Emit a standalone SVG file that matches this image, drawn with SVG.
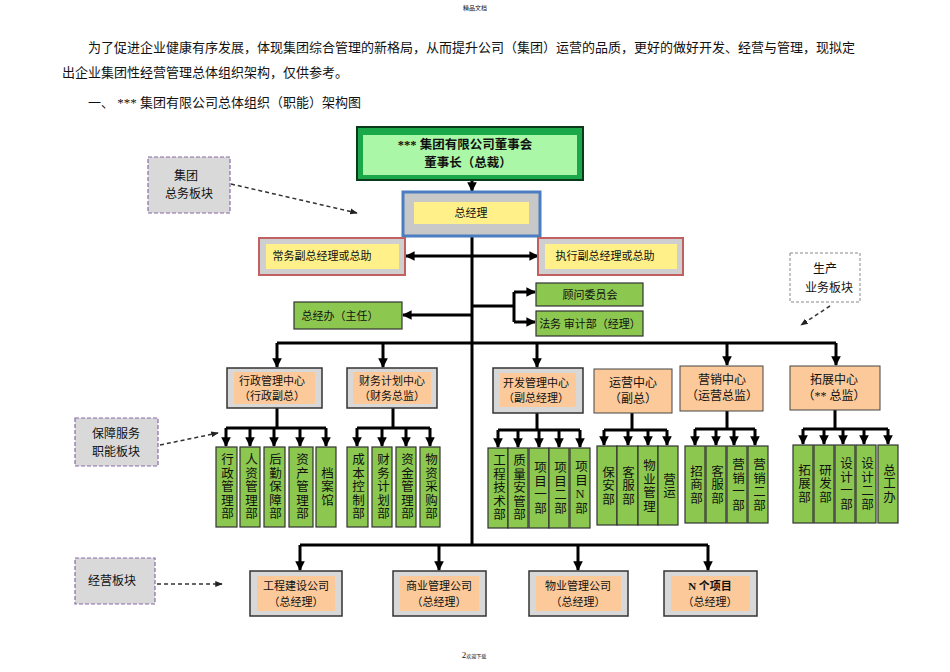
<svg xmlns="http://www.w3.org/2000/svg" width="950" height="672" viewBox="0 0 950 672">
<defs>
<marker id="ah" viewBox="0 0 10 10" refX="9" refY="5" markerWidth="3.2" markerHeight="3.2" orient="auto"><path d="M0,0L10,5L0,10z" fill="#000"/></marker>
<marker id="dh" viewBox="0 0 10 10" refX="9" refY="5" markerWidth="5" markerHeight="5" orient="auto"><path d="M0,1L10,5L0,9z" fill="#222"/></marker>
<style>
text{font-family:"Liberation Serif","Noto Sans CJK SC",serif;fill:#111}
.p{font-size:13px}
.t{font-size:11px;text-anchor:middle}
.v{font-size:12.5px;text-anchor:middle;writing-mode:vertical-rl;text-orientation:upright;letter-spacing:1px}
.ln{stroke:#000;stroke-width:3;fill:none}
.la{stroke:#000;stroke-width:3;fill:none;marker-end:url(#ah)}
.dl{stroke:#333;stroke-width:1.5;stroke-dasharray:4,3;fill:none;marker-end:url(#dh)}
.g{fill:#8cc850;stroke:#333;stroke-width:1.2}
.og{fill:#d8d8d8;stroke:#333;stroke-width:1.5}
.oi{fill:#fbc99a}
.o{fill:#fbc99a;stroke:#444;stroke-width:1}
.lab{fill:#d9d9d9;stroke:#8a6aa8;stroke-width:1.2;stroke-dasharray:4,2}
</style>
</defs>
<text x="475" y="10" style="font-size:6px;text-anchor:middle">精品文档</text>
<text class="p" x="88" y="52">为了促进企业健康有序发展，体现集团综合管理的新格局，从而提升公司（集团）运营的品质，更好的做好开发、经营与管理，现拟定</text>
<text class="p" x="62" y="77">出企业集团性经营管理总体组织架构，仅供参考。</text>
<text class="p" x="88" y="107">一、 *** 集团有限公司总体组织（职能）架构图</text>

<g id="connectors">
<path class="la" d="M472,180V191"/>
<path class="ln" d="M472,236V545"/>
<path class="la" d="M472,256H538"/><path class="la" d="M472,256H406"/>
<path class="la" d="M472,315H403"/>
<path class="ln" d="M472,306H514"/>
<path class="ln" d="M514,292V322"/><path class="la" d="M514,292H535"/><path class="la" d="M514,322H535"/>
<path class="ln" d="M277,343H836"/>
<path class="la" d="M277,343V367"/><path class="la" d="M383,343V367"/><path class="la" d="M537,343V367"/><path class="la" d="M727,343V365"/><path class="la" d="M836,343V365"/>
<path class="ln" d="M277,408V428M226,428H326"/>
<path class="la" d="M226,428V446"/><path class="la" d="M250,428V446"/><path class="la" d="M274,428V446"/><path class="la" d="M300,428V446"/><path class="la" d="M326,428V446"/>
<path class="ln" d="M393,408V428M357,428H430"/>
<path class="la" d="M357,428V446"/><path class="la" d="M382,428V446"/><path class="la" d="M406,428V446"/><path class="la" d="M430,428V446"/>
<path class="ln" d="M537,413V430M498,430H580"/>
<path class="la" d="M498,430V447"/><path class="la" d="M518,430V447"/><path class="la" d="M539,430V447"/><path class="la" d="M559,430V447"/><path class="la" d="M580,430V447"/>
<path class="ln" d="M632,413V430M604,430H667"/>
<path class="la" d="M604,430V445"/><path class="la" d="M628,430V445"/><path class="la" d="M648,430V445"/><path class="la" d="M667,430V445"/>
<path class="ln" d="M727,411V429M695,429H755"/>
<path class="la" d="M695,429V445"/><path class="la" d="M716,429V445"/><path class="la" d="M734,429V445"/><path class="la" d="M755,429V445"/>
<path class="ln" d="M835,410V429M803,429H888"/>
<path class="la" d="M803,429V444"/><path class="la" d="M824,429V444"/><path class="la" d="M843,429V444"/><path class="la" d="M864,429V444"/><path class="la" d="M888,429V444"/>
<path class="ln" d="M300,545H708"/>
<path class="la" d="M300,545V570"/><path class="la" d="M439,545V570"/><path class="la" d="M578,545V570"/><path class="la" d="M708,545V570"/>
<path class="dl" d="M231,184L357,213"/>
<path class="dl" d="M160,445L218,433"/>
<path class="dl" d="M157,584L222,584"/>
<path class="dl" d="M830,306L801,325"/>
</g>

<g id="board"><rect x="357" y="127" width="226" height="53" fill="#1aa84a" stroke="#0a3a1a" stroke-width="2"/><rect x="363" y="135" width="214" height="40" fill="#aaf7a8"/>
<text class="t" x="465" y="149" style="font-size:12.5px;font-weight:bold">*** 集团有限公司董事会</text><text class="t" x="468" y="167" style="font-size:12.5px;font-weight:bold">董事长（总裁）</text></g>
<g id="gm"><rect x="403" y="192" width="137" height="44" fill="#c8c8c8" stroke="#4a7ec0" stroke-width="3"/><rect x="414" y="202" width="115" height="22" fill="#fff08a"/><text class="t" x="471" y="217">总经理</text></g>
<g id="vp1"><rect x="259" y="238" width="146" height="37" fill="#cfcfcf" stroke="#c06060" stroke-width="2"/><rect x="266" y="244" width="133" height="25" fill="#fff08a"/><text class="t" x="322" y="260">常务副总经理或总助</text></g>
<g id="vp2"><rect x="538" y="238" width="145" height="37" fill="#cfcfcf" stroke="#c06060" stroke-width="2"/><rect x="545" y="244" width="132" height="25" fill="#fff08a"/><text class="t" x="605" y="260">执行副总经理或总助</text></g>
<g id="gw"><rect x="536" y="283" width="107" height="23" class="g"/><text class="t" x="590" y="299">顾问委员会</text></g>
<g id="fw"><rect x="536" y="311" width="107" height="25" class="g"/><text class="t" x="590" y="328">法务 审计部（经理）</text></g>
<g id="zjb"><rect x="294" y="302" width="108" height="27" class="g"/><text class="t" x="340" y="320">总经办（主任）</text></g>

<g id="xz"><rect x="227" y="368" width="95" height="40" class="og"/><rect x="234" y="372" width="81" height="32" class="oi"/><text class="t" x="272" y="385">行政管理中心</text><text class="t" x="272" y="400">（行政副总）</text></g>
<g id="cw"><rect x="347" y="368" width="90" height="40" class="og"/><rect x="353" y="372" width="78" height="32" class="oi"/><text class="t" x="392" y="385">财务计划中心</text><text class="t" x="392" y="400">（财务总监）</text></g>
<g id="kf"><rect x="493" y="368" width="90" height="45" class="og"/><rect x="500" y="373" width="76" height="34" class="oi"/><text class="t" x="536" y="387">开发管理中心</text><text class="t" x="536" y="402">（副总经理）</text></g>
<g id="yy"><rect x="594" y="369" width="78" height="44" class="o"/><text class="t" x="633" y="387" style="font-size:12px">运营中心</text><text class="t" x="633" y="403" style="font-size:12px">（副总）</text></g>
<g id="yx"><rect x="680" y="366" width="83" height="45" class="o"/><text class="t" x="722" y="384" style="font-size:12px">营销中心</text><text class="t" x="722" y="400" style="font-size:12px">（运营总监）</text></g>
<g id="tz"><rect x="790" y="366" width="90" height="44" class="o"/><text class="t" x="834" y="384" style="font-size:12px">拓展中心</text><text class="t" x="834" y="400" style="font-size:12px">（** 总监）</text></g>

<g id="c-xz">
<rect x="216" y="447" width="21" height="80" class="g"/><text class="v" x="226" y="487">行政管理部</text>
<rect x="240" y="447" width="20" height="80" class="g"/><text class="v" x="250" y="487">人资管理部</text>
<rect x="264" y="447" width="21" height="80" class="g"/><text class="v" x="274" y="487">后勤保障部</text>
<rect x="289" y="447" width="24" height="80" class="g"/><text class="v" x="301" y="487">资产管理部</text>
<rect x="316" y="447" width="20" height="80" class="g"/><text class="v" x="326" y="487">档案馆</text>
</g>
<g id="c-cw">
<rect x="347" y="447" width="21" height="80" class="g"/><text class="v" x="357" y="487">成本控制部</text>
<rect x="372" y="447" width="20" height="80" class="g"/><text class="v" x="382" y="487">财务计划部</text>
<rect x="396" y="447" width="20" height="80" class="g"/><text class="v" x="406" y="487">资金管理部</text>
<rect x="420" y="447" width="20" height="80" class="g"/><text class="v" x="430" y="487">物资采购部</text>
</g>
<g id="c-kf">
<rect x="488" y="448" width="20" height="80" class="g"/><text class="v" x="498" y="488">工程技术部</text>
<rect x="508" y="448" width="20" height="80" class="g"/><text class="v" x="518" y="488">质量安管部</text>
<rect x="529" y="448" width="20" height="80" class="g"/><text class="v" x="539" y="488">项目一部</text>
<rect x="549" y="448" width="20" height="80" class="g"/><text class="v" x="559" y="488">项目二部</text>
<rect x="570" y="448" width="20" height="80" class="g"/><text class="v" x="580" y="488">项目N部</text>
</g>
<g id="c-yy">
<rect x="597" y="446" width="20" height="79" class="g"/><text class="v" x="607" y="486">保安部</text>
<rect x="617" y="446" width="21" height="79" class="g"/><text class="v" x="627" y="486">客服部</text>
<rect x="638" y="446" width="20" height="79" class="g"/><text class="v" x="648" y="486">物业管理</text>
<rect x="658" y="446" width="20" height="79" class="g"/><text class="v" x="668" y="486">营运</text>
</g>
<g id="c-yx">
<rect x="685" y="446" width="20" height="77" class="g"/><text class="v" x="695" y="485">招商部</text>
<rect x="706" y="446" width="20" height="77" class="g"/><text class="v" x="716" y="485">客服部</text>
<rect x="727" y="446" width="20" height="77" class="g"/><text class="v" x="737" y="485">营销一部</text>
<rect x="748" y="446" width="20" height="77" class="g"/><text class="v" x="758" y="485">营销二部</text>
</g>
<g id="c-tz">
<rect x="793" y="445" width="20" height="78" class="g"/><text class="v" x="803" y="484">拓展部</text>
<rect x="814" y="445" width="20" height="78" class="g"/><text class="v" x="824" y="484">研发部</text>
<rect x="835" y="445" width="20" height="78" class="g"/><text class="v" x="845" y="484">设计一部</text>
<rect x="856" y="445" width="20" height="78" class="g"/><text class="v" x="866" y="484">设计二部</text>
<rect x="878" y="445" width="20" height="78" class="g"/><text class="v" x="888" y="484">总工办</text>
</g>

<g id="b1"><rect x="250" y="571" width="92" height="45" class="og"/><rect x="257" y="576" width="78" height="35" class="oi"/><text class="t" x="296" y="590">工程建设公司</text><text class="t" x="296" y="606">（总经理）</text></g>
<g id="b2"><rect x="393" y="571" width="93" height="45" class="og"/><rect x="400" y="576" width="79" height="35" class="oi"/><text class="t" x="439" y="590">商业管理公司</text><text class="t" x="439" y="606">（总经理）</text></g>
<g id="b3"><rect x="529" y="571" width="99" height="45" class="og"/><rect x="536" y="576" width="85" height="35" class="oi"/><text class="t" x="578" y="590">物业管理公司</text><text class="t" x="578" y="606">（总经理）</text></g>
<g id="b4"><rect x="664" y="571" width="93" height="45" class="og"/><rect x="671" y="576" width="79" height="35" class="oi"/><text class="t" x="710" y="590" style="font-weight:bold">N 个项目</text><text class="t" x="710" y="606">（总经理）</text></g>

<g id="l1"><rect x="148" y="157" width="82" height="56" class="lab"/><text class="t" x="186" y="180" style="font-size:12px">集团</text><text class="t" x="189" y="198" style="font-size:12px">总务板块</text></g>
<g id="l2"><rect x="75" y="418" width="83" height="48" class="lab"/><text class="t" x="116" y="438" style="font-size:12px">保障服务</text><text class="t" x="116" y="456" style="font-size:12px">职能板块</text></g>
<g id="l3"><rect x="75" y="558" width="80" height="46" class="lab"/><text class="t" x="112" y="585" style="font-size:12px">经营板块</text></g>
<g id="l4"><rect x="790" y="253" width="70" height="49" fill="#fff" stroke="#888" stroke-width="1" stroke-dasharray="3,2"/><text class="t" x="825" y="273" style="font-size:12px">生产</text><text class="t" x="829" y="292" style="font-size:12px">业务板块</text></g>

<text x="474" y="658" style="font-size:9px;text-anchor:middle">2<tspan style="font-size:5px">欢迎下载</tspan></text>
</svg>
